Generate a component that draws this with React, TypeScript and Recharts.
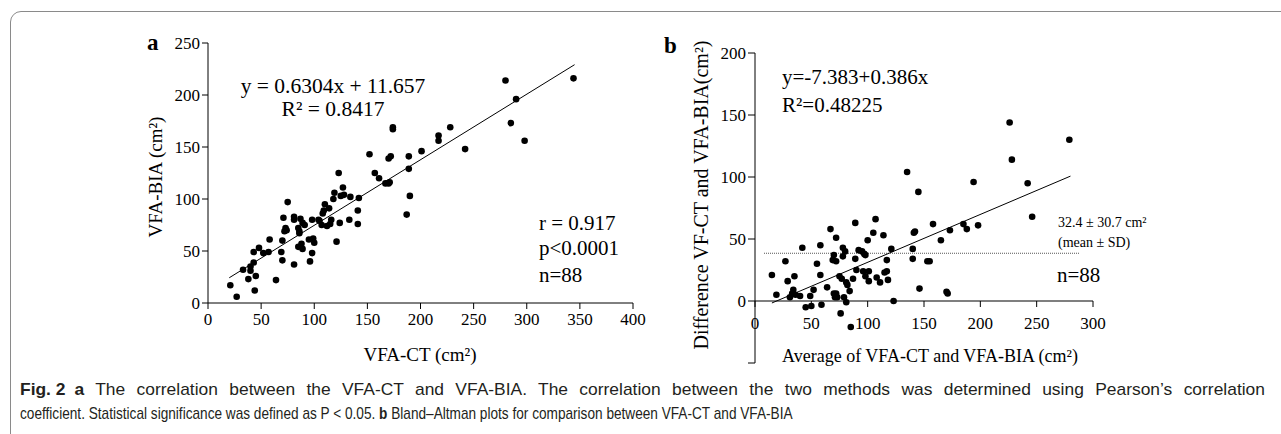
import React, { useMemo } from 'react';
import { ScatterChart, Scatter, XAxis, YAxis, ReferenceLine } from 'recharts';

// Panel a: VFA-CT (x) vs VFA-BIA (y)
const vfaCt = [
  21, 27, 33, 38, 40, 40, 43, 43, 45, 44, 48, 52, 57, 58, 64, 69, 70, 70, 71, 72, 73, 74,
  75, 81, 81, 81, 86, 86, 85, 87, 88, 89, 89, 91, 96, 95, 98, 98, 99, 100, 104, 107, 108,
  109, 110, 112, 115, 114, 116, 118, 119, 121, 123, 124, 125, 127, 128, 133, 134, 141, 141,
  142, 152, 157, 161, 167, 170, 170, 172, 174, 174, 187, 190, 189, 189, 201, 217, 217, 228,
  242, 280, 285, 290, 298, 344, 85, 105, 171,
];
const vfaBia = [
  17, 6, 32, 23, 35, 31, 39, 49, 26, 12, 53, 48, 49, 61, 22, 49, 41, 60, 82, 69, 72, 70,
  97, 37, 83, 80, 67, 69, 54, 81, 57, 52, 77, 75, 40, 61, 48, 80, 62, 58, 80, 75, 86,
  89, 95, 74, 76, 91, 80, 100, 106, 59, 125, 77, 103, 111, 104, 80, 102, 76, 89,
  101, 143, 125, 120, 115, 115, 139, 141, 169, 167, 85, 103, 129, 141, 146, 161, 156, 169,
  148, 214, 173, 196, 156, 216, 72, 79, 116,
];

// Panel b: Bland-Altman, average (x) vs difference (y)
const baAverage = [
  15, 19, 27, 29, 31, 35, 34, 36, 40, 42, 45, 49, 50, 52, 55, 58, 58, 59, 64, 67, 69, 70,
  70, 71, 72, 72, 72, 73, 75, 76, 77, 78, 78, 80, 79, 81, 81, 82, 84, 85, 87, 89, 89, 90,
  92, 95, 96, 97, 98, 98, 100, 101, 101, 105, 107, 108, 111, 114, 115, 117, 117, 118, 121,
  123, 135, 140, 140, 141, 142, 145, 146, 153, 155, 158, 165, 170, 171, 173, 185, 188, 194,
  198, 226, 228, 242, 246, 279, 33,
];
const baDiff = [
  21, 5, 32, 16, 3, 20, 9, 5, 4, 43, -5, 4, -4, 9, 30, 45, 21, -3, 11, 58, 33, 37,
  6, 3, 51, 32, 6, 3, 20, -10, 18, 36, 43, 40, 3, -1, 15, 13, 8, -21, 18, 63, 34, 25,
  41, 40, 24, 38, 37, 20, 49, 24, 16, 55, 66, 19, 15, 53, 23, 24, 33, 17, 42,
  0, 104, 42, 34, 55, 56, 88, 10, 32, 32, 62, 49, 7.5, 6, 57, 62, 58, 96,
  61, 144, 114, 95, 68, 130, 6,
];

const ticksA_x = [0, 50, 100, 150, 200, 250, 300, 350, 400];
const ticksA_y = [0, 50, 100, 150, 200, 250];
const ticksB_x = [0, 50, 100, 150, 200, 250, 300];
const ticksB_y = [-50, 0, 50, 100, 150, 200];

const fitA = (x: number) => 0.6304 * x + 11.657;
const fitB = (x: number) => -7.383 + 0.386 * x;
const meanLineB = 38.5;

const dataA = vfaCt.map((x, i) => ({ x, y: vfaBia[i] }));
const dataB = baAverage.map((x, i) => ({ x, y: baDiff[i] }));

const SERIF = '"Liberation Serif", "Times New Roman", serif';
const SANS = '"Liberation Sans", Arial, sans-serif';
const tickStyle = { fontFamily: SERIF, fontSize: 17, fill: '#000' };

const captionLine1: [string, boolean][] = [
  ['Fig. 2', true],
  ['a', true],
  [' The correlation between the VFA-CT and VFA-BIA. The correlation between the two methods was determined using Pearson’s correlation', false],
];
const captionLine2: [string, boolean][] = [
  ['coefficient. Statistical significance was defined as P < 0.05. ', false],
  ['b', true],
  [' Bland–Altman plots for comparison between VFA-CT and VFA-BIA', false],
];

// panel b layout (used to put the x axis on the zero line)
const B_TOP = 53;
const B_BOTTOM = 41;
const B_XAXIS_H = 30;
const B_HEIGHT = 434;
const B_PLOT_H = B_HEIGHT - B_TOP - B_BOTTOM - B_XAXIS_H;
const B_ZERO_OFFSET = (B_PLOT_H * (0 - ticksB_y[0])) / (ticksB_y[ticksB_y.length - 1] - ticksB_y[0]);

const Dot = (p: any) => <circle cx={p.cx} cy={p.cy} r={3.3} fill="#000" />;

const ZeroAxisTick = (p: any) => {
  const y0 = p.y - B_ZERO_OFFSET;
  return (
    <g>
      <line x1={p.x} x2={p.x} y1={y0} y2={y0 + 6} stroke="#000" />
      <text x={p.x} y={y0 + 28} textAnchor="middle" style={tickStyle}>
        {p.payload.value}
      </text>
    </g>
  );
};

const CAP_SIZE = 17;

function measure(parts: [string, boolean][]) {
  const ctx = document.createElement('canvas').getContext('2d');
  if (!ctx) return 1000;
  let w = 0;
  parts.forEach(([t, b]) => {
    ctx.font = `${b ? 'bold ' : ''}${CAP_SIZE}px ${SANS}`;
    w += ctx.measureText(t).width;
  });
  return w;
}

const App: React.FC = () => {
  // condensed caption face: line 1 is justified to the full width, line 2 is ragged
  const sx1 = useMemo(() => 1120 / measure(captionLine1), []);
  const sx2 = useMemo(() => 773 / measure(captionLine2), []);

  return (
    <div style={{ position: 'absolute', left: 0, top: 0, width: 1281, height: 434, overflow: 'hidden', background: '#fff' }}>
      <div
        style={{
          position: 'absolute',
          left: 10,
          top: 11,
          width: 1400,
          height: 440,
          border: '1px solid #8a8a8a',
          borderRadius: 11,
        }}
      />

      <div style={{ position: 'absolute', left: 0, top: 0 }}>
        <ScatterChart width={700} height={434} margin={{ top: 43, right: 67, bottom: 101, left: 148 }}>
          <XAxis
            type="number"
            dataKey="x"
            domain={[0, 400]}
            ticks={ticksA_x}
            tick={tickStyle}
            tickSize={6}
            tickMargin={4}
            stroke="#000"
            height={30}
            interval={0}
          />
          <YAxis
            type="number"
            dataKey="y"
            domain={[0, 250]}
            ticks={ticksA_y}
            tick={tickStyle}
            tickSize={6}
            tickMargin={2}
            stroke="#000"
            width={60}
            interval={0}
          />
          <ReferenceLine
            segment={[{ x: 20, y: fitA(20) }, { x: 345, y: fitA(345) }]}
            stroke="#000"
            strokeWidth={1}
          />
          <Scatter data={dataA} shape={Dot} isAnimationActive={false} />
        </ScatterChart>
      </div>

      <div style={{ position: 'absolute', left: 650, top: 0 }}>
        <ScatterChart
          width={631}
          height={B_HEIGHT}
          margin={{ top: B_TOP, right: 188, bottom: B_BOTTOM, left: 50 }}
        >
          <XAxis
            type="number"
            dataKey="x"
            domain={[0, 300]}
            ticks={ticksB_x}
            tick={<ZeroAxisTick />}
            axisLine={false}
            tickLine={false}
            tickSize={0}
            tickMargin={0}
            height={B_XAXIS_H}
            interval={0}
          />
          <YAxis
            type="number"
            dataKey="y"
            domain={[-50, 200]}
            ticks={ticksB_y}
            tick={tickStyle}
            tickFormatter={(v: number) => (v < 0 ? '' : String(v))}
            tickSize={7}
            tickMargin={2}
            stroke="#000"
            width={55}
            interval={0}
          />
          <ReferenceLine segment={[{ x: 0, y: 0 }, { x: 300, y: 0 }]} stroke="#000" strokeWidth={1.2} />
          <ReferenceLine
            segment={[{ x: 8, y: meanLineB }, { x: 288, y: meanLineB }]}
            stroke="#555"
            strokeDasharray="1 1"
            strokeWidth={1}
          />
          <ReferenceLine
            segment={[{ x: 15, y: fitB(15) }, { x: 280, y: fitB(280) }]}
            stroke="#000"
            strokeWidth={1}
          />
          <Scatter data={dataB} shape={Dot} isAnimationActive={false} />
        </ScatterChart>
      </div>

      {/* annotations and axis titles */}
      <svg width={1281} height={434} style={{ position: 'absolute', left: 0, top: 0, pointerEvents: 'none' }}>
        <g fontFamily={SERIF} fill="#000">
          <text x={147} y={50} fontSize={23} fontWeight="bold">a</text>
          <text x={333} y={93} fontSize={21.5} textAnchor="middle">y = 0.6304x + 11.657</text>
          <text x={333} y={116} fontSize={21.5} textAnchor="middle">R² = 0.8417</text>
          <text x={539} y={230} fontSize={21}>r = 0.917</text>
          <text x={539} y={255} fontSize={21}>p&lt;0.0001</text>
          <text x={539} y={282} fontSize={21}>n=88</text>
          <text x={162} y={177} fontSize={19} textAnchor="middle" transform="rotate(-90 162 177)">VFA-BIA (cm²)</text>
          <text x={420} y={361} fontSize={19} textAnchor="middle">VFA-CT (cm²)</text>

          <text x={664} y={53} fontSize={23} fontWeight="bold">b</text>
          <text x={782} y={84} fontSize={21}>y=-7.383+0.386x</text>
          <text x={782} y={112} fontSize={21}>R²=0.48225</text>
          <text x={1058} y={227} fontSize={14}>32.4 ± 30.7 cm²</text>
          <text x={1058} y={247} fontSize={14}>(mean ± SD)</text>
          <text x={1057} y={282} fontSize={21}>n=88</text>
          <text x={708} y={195} fontSize={20} textAnchor="middle" transform="rotate(-90 708 195)">Difference VF-CT and VFA-BIA(cm²)</text>
          <text x={930} y={362} fontSize={18} textAnchor="middle">Average of VFA-CT and VFA-BIA (cm²)</text>
        </g>
      </svg>

      {/* caption */}
      <div style={{ position: 'absolute', left: 20, top: 378, fontFamily: SANS, fontSize: CAP_SIZE, lineHeight: '24px', color: '#231f20' }}>
        <div
          style={{
            width: 1245 / sx1,
            textAlign: 'justify',
            textAlignLast: 'justify',
            transform: `scaleX(${sx1})`,
            transformOrigin: 'left top',
            whiteSpace: 'nowrap',
          }}
        >
          <b style={{ display: 'inline-block', marginRight: 9 / sx1 }}>{captionLine1[0][0]}</b>
          <b style={{ display: 'inline-block' }}>{captionLine1[1][0]}</b>
          {captionLine1[2][0]}
        </div>
        <div style={{ transform: `scaleX(${sx2})`, transformOrigin: 'left top', whiteSpace: 'nowrap' }}>
          {captionLine2[0][0]}
          <b>{captionLine2[1][0]}</b>
          {captionLine2[2][0]}
        </div>
      </div>
    </div>
  );
};

export default App;
